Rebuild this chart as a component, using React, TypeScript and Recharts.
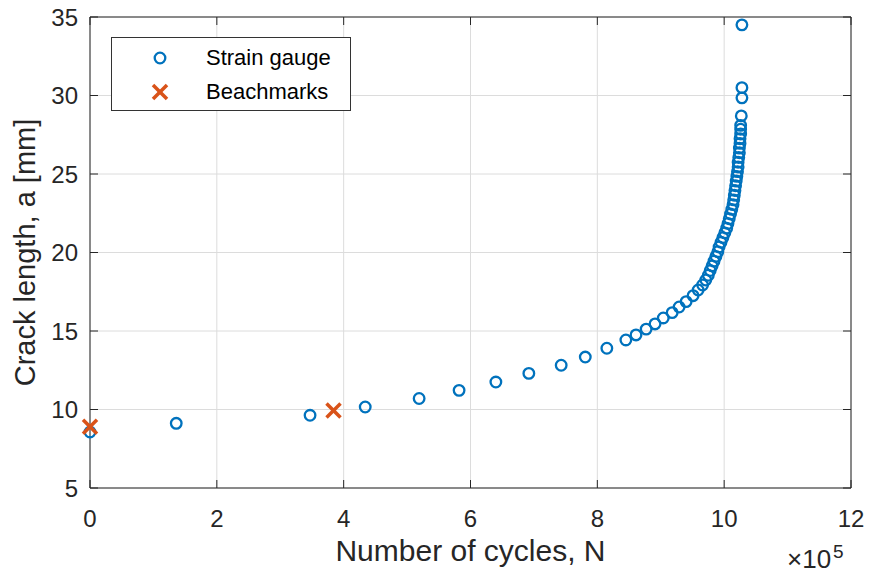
import React from "react";
import { ReferenceLine, Scatter, ScatterChart, XAxis, YAxis, CartesianGrid } from "recharts";

// strain gauge readings: cycles (x1e5) and crack length (mm)
const gaugeCycles = [
  0, 1.36, 3.47, 4.34, 5.19, 5.82, 6.4, 6.92, 7.43, 7.81, 8.15, 8.45, 8.61, 8.77, 8.91, 9.04, 9.18, 9.29, 9.4, 9.51,
  9.59, 9.66, 9.71, 9.75, 9.78, 9.81, 9.84, 9.87, 9.9, 9.92, 9.95, 9.98, 10.01, 10.04, 10.06, 10.08, 10.1, 10.12,
  10.14, 10.15, 10.16, 10.17, 10.18, 10.19, 10.2, 10.21, 10.22, 10.22, 10.23, 10.24, 10.24, 10.25, 10.25, 10.26,
  10.26, 10.26, 10.27, 10.28, 10.28, 10.28,
];
const gaugeLength = [
  8.57, 9.12, 9.63, 10.16, 10.7, 11.22, 11.75, 12.3, 12.82, 13.34, 13.9, 14.43, 14.75, 15.12, 15.45, 15.83, 16.17,
  16.53, 16.87, 17.25, 17.61, 17.93, 18.25, 18.55, 18.85, 19.15, 19.45, 19.75, 20.05, 20.35, 20.65, 20.95, 21.25,
  21.55, 21.85, 22.15, 22.45, 22.75, 23.05, 23.35, 23.65, 23.95, 24.25, 24.55, 24.85, 25.15, 25.45, 25.75, 26.05,
  26.35, 26.65, 26.95, 27.25, 27.55, 27.85, 28.1, 28.7, 29.85, 30.5, 34.5,
];

// beachmark measurements
const beachCycles = [0, 3.84];
const beachLength = [8.9, 9.93];

const xTicks = [0, 2, 4, 6, 8, 10, 12];
const yTicks = [5, 10, 15, 20, 25, 30, 35];

const gaugeData = gaugeCycles.map((n, i) => ({ n, a: gaugeLength[i] }));
const beachData = beachCycles.map((n, i) => ({ n, a: beachLength[i] }));

const BLUE = "#0072BD";
const ORANGE = "#D95319";
const INK = "#262626";
const FONT = "'Liberation Sans', Arial, sans-serif";

const W = 870;
const H = 577;
const TOP = 17;
const RIGHT = 19;
const LEFT_W = 90;
const BOTTOM_H = 89;
const PLOT_BOTTOM = H - BOTTOM_H;
const PLOT_RIGHT = W - RIGHT;

function Ring(props: any) {
  const { cx, cy } = props;
  if (cx == null || cy == null) return null;
  return <circle cx={cx} cy={cy} r={5.3} fill="none" stroke={BLUE} strokeWidth={2.3} />;
}

function Cross(props: any) {
  const { cx, cy } = props;
  if (cx == null || cy == null) return null;
  const d = 7;
  return (
    <g stroke={ORANGE} strokeWidth={3.5}>
      <line x1={cx - d} y1={cy - d} x2={cx + d} y2={cy + d} />
      <line x1={cx - d} y1={cy + d} x2={cx + d} y2={cy - d} />
    </g>
  );
}

function XTick(props: any) {
  const { x, y, payload } = props;
  return (
    <g>
      <line x1={x} x2={x} y1={y} y2={y - 8} stroke={INK} />
      <line x1={x} x2={x} y1={TOP} y2={TOP + 8} stroke={INK} />
      <text x={x} y={y + 39} textAnchor="middle" fill={INK} fontSize={24} fontFamily={FONT}>
        {payload.value}
      </text>
    </g>
  );
}

function YTick(props: any) {
  const { x, y, payload } = props;
  return (
    <g>
      <line x1={x} x2={x + 8} y1={y} y2={y} stroke={INK} />
      <line x1={PLOT_RIGHT} x2={PLOT_RIGHT - 8} y1={y} y2={y} stroke={INK} />
      <text x={x - 12} y={y + 8.5} textAnchor="end" fill={INK} fontSize={24} fontFamily={FONT}>
        {payload.value}
      </text>
    </g>
  );
}

function LegendBox() {
  const row = { display: "flex", alignItems: "center", height: 34 } as const;
  return (
    <div
      style={{
        position: "absolute",
        left: 111,
        top: 37,
        width: 240,
        height: 74,
        boxSizing: "border-box",
        border: "1px solid #333",
        background: "#fff",
        fontFamily: FONT,
        fontSize: 22,
        color: "#000",
        padding: "3px 0",
      }}
    >
      <div style={row}>
        <svg width={94} height={34}>
          <circle cx={48} cy={17} r={5.3} fill="none" stroke={BLUE} strokeWidth={2.3} />
        </svg>
        <span>Strain gauge</span>
      </div>
      <div style={row}>
        <svg width={94} height={34}>
          <g stroke={ORANGE} strokeWidth={3.5}>
            <line x1={41} y1={10} x2={55} y2={24} />
            <line x1={41} y1={24} x2={55} y2={10} />
          </g>
        </svg>
        <span>Beachmarks</span>
      </div>
    </div>
  );
}

function YLabel() {
  const cx = 25;
  const cy = (TOP + PLOT_BOTTOM) / 2;
  return (
    <text
      x={cx}
      y={cy}
      transform={`rotate(-90 ${cx} ${cy})`}
      textAnchor="middle"
      dominantBaseline="central"
      fill={INK}
      fontSize={29}
      fontFamily={FONT}
    >
      Crack length, a [mm]
    </text>
  );
}

export default function App() {
  return (
    <div style={{ position: "absolute", left: 0, top: 0, width: W, height: H, background: "#fff" }}>
      <ScatterChart width={W} height={H} margin={{ top: TOP, right: RIGHT, left: 0, bottom: 0 }}>
        <CartesianGrid stroke="#dcdcdc" />
        <XAxis
          type="number"
          dataKey="n"
          domain={[0, 12]}
          ticks={xTicks}
          height={BOTTOM_H}
          tickSize={0}
          tickMargin={0}
          tickLine={false}
          tick={<XTick />}
          axisLine={{ stroke: INK }}
          label={{
            value: "Number of cycles, N",
            position: "insideBottom",
            offset: 16,
            fill: INK,
            fontSize: 30,
            fontFamily: FONT,
          }}
        />
        <YAxis
          type="number"
          dataKey="a"
          domain={[5, 35]}
          ticks={yTicks}
          width={LEFT_W}
          tickSize={0}
          tickMargin={0}
          tickLine={false}
          tick={<YTick />}
          axisLine={{ stroke: INK }}
          label={<YLabel />}
        />
        <ReferenceLine y={35} stroke={INK} />
        <ReferenceLine x={12} stroke={INK} />
        <Scatter name="Strain gauge" data={gaugeData} shape={<Ring />} isAnimationActive={false} />
        <Scatter name="Beachmarks" data={beachData} shape={<Cross />} isAnimationActive={false} />
      </ScatterChart>
      <LegendBox />
      <div
        style={{
          position: "absolute",
          left: 787,
          top: 544,
          fontFamily: FONT,
          color: INK,
          fontSize: 26,
          whiteSpace: "nowrap",
        }}
      >
        <span style={{ fontSize: 26, fontWeight: 300 }}>×</span>10
        <sup style={{ fontSize: 19, verticalAlign: 0, position: "relative", top: -10, marginLeft: 2 }}>5</sup>
      </div>
    </div>
  );
}
